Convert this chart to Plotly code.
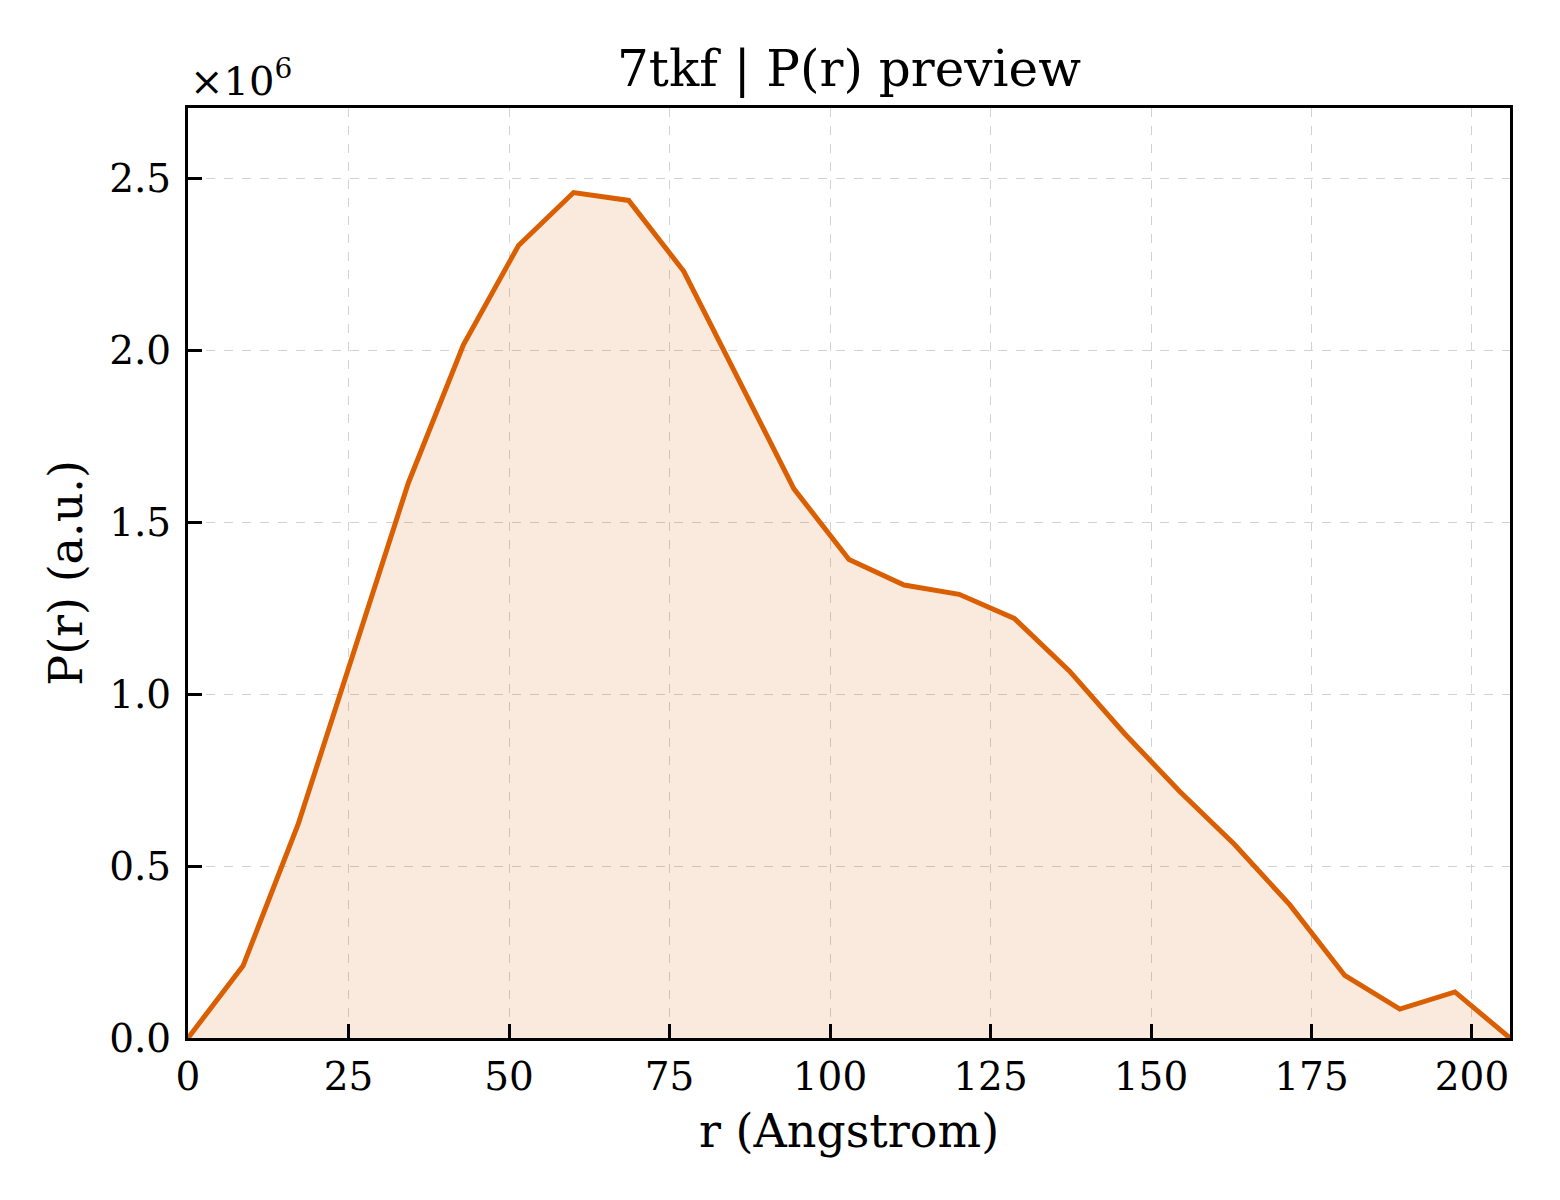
import plotly.graph_objects as go

# Data
r_angstrom = [0.0, 8.58, 17.16, 25.74, 34.32, 42.9, 51.48, 60.06, 68.64, 77.22,
              85.8, 94.38, 102.96, 111.54, 120.12, 128.7, 137.28, 145.86, 154.44,
              163.02, 171.6, 180.18, 188.76, 197.34, 205.92]
p_r_values = [0.0, 0.210e6, 0.622e6, 1.12e6, 1.615e6, 2.017e6, 2.306e6, 2.460e6,
              2.437e6, 2.231e6, 1.916e6, 1.598e6, 1.392e6, 1.318e6, 1.291e6,
              1.221e6, 1.068e6, 0.886e6, 0.718e6, 0.563e6, 0.388e6, 0.182e6,
              0.084e6, 0.134e6, 0.0]
x_ticks = [0, 25, 50, 75, 100, 125, 150, 175, 200]
y_ticks = [0.0, 0.5e6, 1.0e6, 1.5e6, 2.0e6, 2.5e6]
y_tick_text = ["0.0", "0.5", "1.0", "1.5", "2.0", "2.5"]

FONT = "DejaVu Serif"
LINE = "#D95F02"
W, H = 1552, 1192

fig = go.Figure()
fig.add_trace(go.Scatter(
    x=r_angstrom, y=p_r_values, mode="lines",
    line=dict(color=LINE, width=5),
    fill="tozeroy", fillcolor="rgba(217,95,2,0.13)",
    showlegend=False,
))

axis_common = dict(
    showline=True, linecolor="black", linewidth=3, mirror=True,
    ticks="inside", ticklen=14, tickwidth=2.5, tickcolor="black",
    showgrid=True, gridcolor="#d2d2d2", gridwidth=1.2, griddash="dash",
    zeroline=False,
    tickfont=dict(family=FONT, size=39, color="black"),
)

fig.update_xaxes(
    range=[0, max(r_angstrom)], tickvals=x_ticks, ticklabelstandoff=2,
    title=dict(text="r (Angstrom)", font=dict(family=FONT, size=46, color="black"), standoff=18),
    **axis_common,
)
fig.update_yaxes(
    range=[0, max(p_r_values) * 1.1], tickvals=y_ticks, ticktext=y_tick_text,
    ticklabelstandoff=6,
    title=dict(text="P(r) (a.u.)", font=dict(family=FONT, size=46, color="black"), standoff=13),
    **axis_common,
)

fig.add_annotation(
    text="×10<sup>6</sup>", xref="paper", yref="paper", x=0, y=1,
    xanchor="left", yanchor="bottom", showarrow=False, xshift=0, yshift=2,
    font=dict(family=FONT, size=40, color="black"),
)

fig.update_layout(
    width=W, height=H,
    margin=dict(l=180, r=50, t=100, b=162),
    paper_bgcolor="white", plot_bgcolor="white",
    title=dict(text="7tkf | P(r) preview", x=(841 / W), xanchor="center",
               y=1 - 60 / H, yanchor="middle",
               font=dict(family=FONT, size=50, color="black")),
)

fig.write_html("out.html")
